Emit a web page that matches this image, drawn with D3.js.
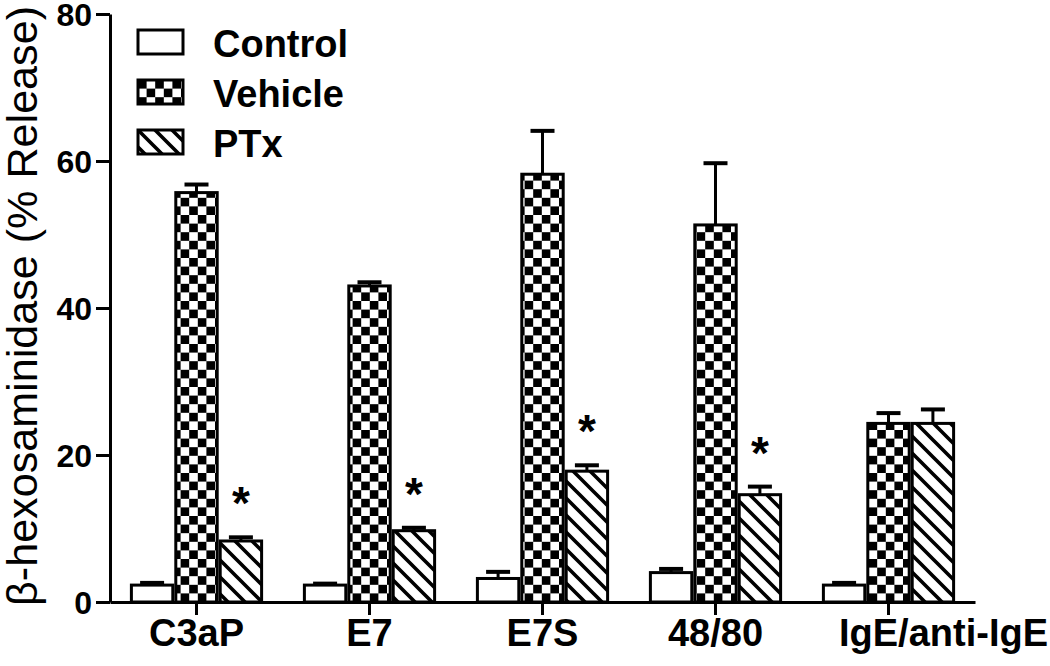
<!DOCTYPE html>
<html>
<head>
<meta charset="utf-8">
<script src="https://cdn.jsdelivr.net/npm/d3@7"></script>
<style>
  body { margin: 0; background: #fff; }
  text { font-family: "Liberation Sans", Arial, sans-serif; fill: #000; }
</style>
</head>
<body>
<script>
// data
var categories = ['C3aP', 'E7', 'E7S', '48/80', 'IgE/anti-IgE'];
var seriesNames = ['Control', 'Vehicle', 'PTx'];
var controlMean = [2.3, 2.3, 3.2, 4.0, 2.3];
var controlSem  = [0.3, 0.2, 0.9, 0.5, 0.3];
var vehicleMean = [55.7, 43.0, 58.2, 51.3, 24.3];
var vehicleSem  = [1.1, 0.5, 5.9, 8.4, 1.4];
var ptxMean     = [8.3, 9.7, 17.8, 14.6, 24.3];
var ptxSem      = [0.5, 0.4, 0.8, 1.1, 1.9];
var significant = [true, true, true, true, false];
var yTicks = [0, 20, 40, 60, 80];

var W = 1050, H = 666;
var svg = d3.select('body').append('svg')
            .attr('width', W)
            .attr('height', H);

// fill patterns
var defs = svg.append('defs');
var cell = 8.6;
var checker = defs.append('pattern')
                  .attr('id', 'checker')
                  .attr('patternUnits', 'userSpaceOnUse')
                  .attr('width', cell * 2)
                  .attr('height', cell * 2);
checker.append('rect').attr('width', cell * 2).attr('height', cell * 2).attr('fill', '#fff');
checker.append('rect').attr('width', cell).attr('height', cell).attr('fill', '#000');
checker.append('rect').attr('x', cell).attr('y', cell).attr('width', cell).attr('height', cell).attr('fill', '#000');

var hs = 17;
var hatch = defs.append('pattern')
                .attr('id', 'hatch')
                .attr('patternUnits', 'userSpaceOnUse')
                .attr('width', hs)
                .attr('height', hs);
hatch.append('rect').attr('width', hs).attr('height', hs).attr('fill', '#fff');
hatch.append('path')
     .attr('d', 'M-4,-4L' + (hs + 4) + ',' + (hs + 4) + 'M-4,' + (hs - 4) + 'L4,' + (hs + 4) + 'M' + (hs - 4) + ',-4L' + (hs + 4) + ',4')
     .attr('stroke', '#000')
     .attr('stroke-width', 3.6);

var fills = ['#fff', 'url(#checker)', 'url(#hatch)'];

// scales
var y = d3.scaleLinear().domain([0, 80]).range([602, 14]);
var x0 = d3.scaleBand().domain(categories).range([110, 975])
           .paddingInner(0.23).paddingOuter(0.115);
var x1 = d3.scaleBand().domain(seriesNames).range([0, x0.bandwidth()]);

var rows = [];
categories.forEach(function(c, i) {
  rows.push({cat: c, s: 'Control', k: 0, mean: controlMean[i], sem: controlSem[i]});
  rows.push({cat: c, s: 'Vehicle', k: 1, mean: vehicleMean[i], sem: vehicleSem[i]});
  rows.push({cat: c, s: 'PTx', k: 2, mean: ptxMean[i], sem: ptxSem[i]});
});

function cx(d) { return x0(d.cat) + x1(d.s) + x1.bandwidth() / 2; }

// error bars (upward only)
var err = svg.append('g').attr('class', 'errors');
err.selectAll('line.v')
   .data(rows).enter().append('line')
   .attr('class', 'v')
   .attr('x1', cx).attr('x2', cx)
   .attr('y1', function(d) { return y(d.mean); })
   .attr('y2', function(d) { return y(d.mean + d.sem); })
   .attr('stroke', '#000').attr('stroke-width', 3);
err.selectAll('line.cap')
   .data(rows).enter().append('line')
   .attr('class', 'cap')
   .attr('x1', function(d) { return cx(d) - 12; })
   .attr('x2', function(d) { return cx(d) + 12; })
   .attr('y1', function(d) { return y(d.mean + d.sem); })
   .attr('y2', function(d) { return y(d.mean + d.sem); })
   .attr('stroke', '#000').attr('stroke-width', 4);

// bars
svg.append('g').selectAll('rect')
   .data(rows).enter().append('rect')
   .attr('x', function(d) { return x0(d.cat) + x1(d.s) + 1.5; })
   .attr('y', function(d) { return y(d.mean); })
   .attr('width', x1.bandwidth() - 3)
   .attr('height', function(d) { return y(0) - y(d.mean); })
   .attr('fill', function(d) { return fills[d.k]; })
   .attr('stroke', '#000')
   .attr('stroke-width', 3);

// significance stars
svg.append('g').selectAll('text')
   .data(categories.filter(function(c, i) { return significant[i]; }))
   .enter().append('text')
   .attr('x', function(c) { return x0(c) + x1('PTx') + x1.bandwidth() / 2; })
   .attr('y', function(c) {
     var i = categories.indexOf(c);
     return y(ptxMean[i] + ptxSem[i]) - 18;
   })
   .attr('text-anchor', 'middle')
   .style('font-size', '46px')
   .style('font-weight', 'bold')
   .text('*');

// axes
var yAxis = d3.axisLeft(y).tickValues(yTicks).tickSize(14).tickSizeOuter(0).tickPadding(4);
var gy = svg.append('g').attr('transform', 'translate(110,0)').call(yAxis);
gy.select('.domain').attr('stroke-width', 3);
gy.selectAll('.tick line').attr('stroke-width', 3);
gy.selectAll('.tick text')
  .style('font-size', '32px')
  .style('font-weight', 'bold')
  .attr('dy', '0.36em');

var xAxis = d3.axisBottom(x0).tickSize(13).tickSizeOuter(0).tickPadding(4);
var gx = svg.append('g').attr('transform', 'translate(0,602)').call(xAxis);
gx.select('.domain').attr('stroke-width', 3);
gx.selectAll('.tick line').attr('stroke-width', 3);
gx.selectAll('.tick text')
  .style('font-size', '38px')
  .style('font-weight', 'bold')
  .attr('dy', '0.71em');

// the last label sits flush with the right edge, as in the original figure
gx.selectAll('.tick text')
  .filter(function(d) { return d === categories[categories.length - 1]; })
  .attr('text-anchor', 'end')
  .attr('x', function(d) { return W - 2 - (x0(d) + x0.bandwidth() / 2); });

// y title
svg.append('text')
   .attr('transform', 'translate(37,306)rotate(-90)')
   .attr('text-anchor', 'middle')
   .attr('textLength', 600)
   .attr('lengthAdjust', 'spacingAndGlyphs')
   .style('font-size', '42px')
   .text('β-hexosaminidase (% Release)');

// legend
var legend = svg.append('g').attr('transform', 'translate(138,30)');
var lg = legend.selectAll('g')
               .data(seriesNames).enter().append('g')
               .attr('transform', function(d, i) { return 'translate(0,' + (i * 50) + ')'; });
lg.append('rect')
  .attr('width', 45).attr('height', 24)
  .attr('fill', function(d, i) { return fills[i]; })
  .attr('stroke', '#000').attr('stroke-width', 3);
lg.append('text')
  .attr('x', 75).attr('y', 13).attr('dy', '0.36em')
  .style('font-size', '38px')
  .style('font-weight', 'bold')
  .text(function(d) { return d; });
</script>
</body>
</html>
